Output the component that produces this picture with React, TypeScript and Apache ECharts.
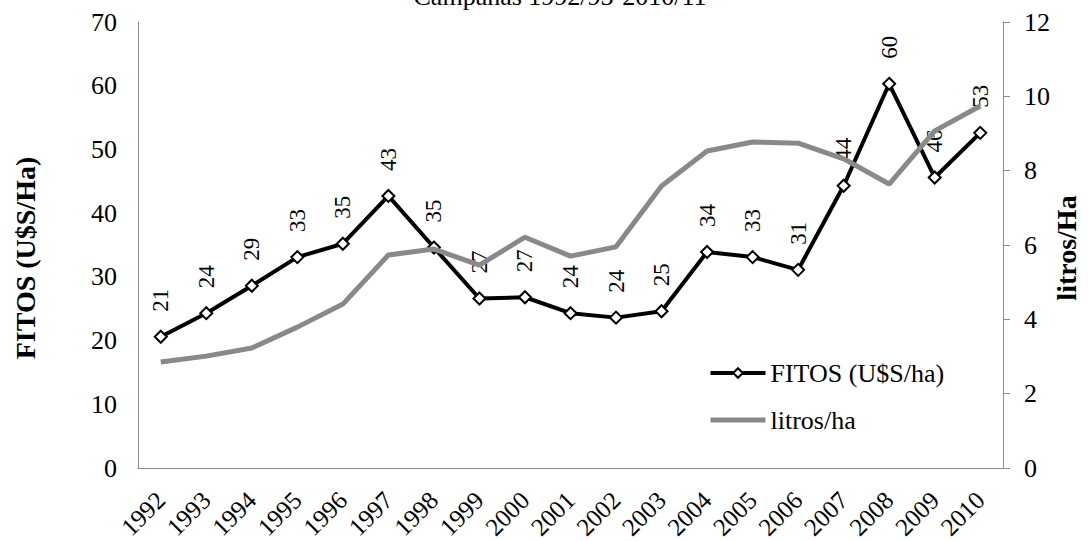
import React, { useEffect, useRef } from "react";
import * as echarts from "echarts";

const years = ["1992", "1993", "1994", "1995", "1996", "1997", "1998", "1999", "2000", "2001", "2002", "2003", "2004", "2005", "2006", "2007", "2008", "2009", "2010"];
const fitos = [20.6, 24.3, 28.6, 33.1, 35.2, 42.7, 34.6, 26.6, 26.8, 24.3, 23.6, 24.6, 33.9, 33.1, 31.1, 44.3, 60.3, 45.6, 52.6];
const litros = [2.85, 3.01, 3.23, 3.79, 4.41, 5.73, 5.89, 5.46, 6.21, 5.7, 5.95, 7.59, 8.53, 8.77, 8.74, 8.32, 7.64, 9.07, 9.74];
const titleText = "Campañas 1992/93-2010/11";
const leftName = "FITOS (U$S/Ha)";
const rightName = "litros/Ha";
const fitosName = "FITOS (U$S/ha)";
const litrosName = "litros/ha";

const FONT = "Liberation Serif";
const GRAY = "#898989";
const AXIS = "#8c8c8c";

export default function App() {
  const ref = useRef<HTMLDivElement>(null);
  useEffect(() => {
    if (!ref.current) return;
    const chart = echarts.init(ref.current, null, { renderer: "svg" });
    chart.setOption({
      animation: false,
      backgroundColor: "#ffffff",
      textStyle: { fontFamily: FONT },
      grid: { left: 138, right: 85, top: 22, bottom: 73, outerBoundsMode: "none", containLabel: false },
      legend: {
        orient: "vertical",
        left: 703,
        top: 355,
        itemWidth: 55,
        itemHeight: 12,
        itemGap: 21,
        textStyle: { fontFamily: FONT, fontSize: 26, color: "#000" },
        data: [
          { name: fitosName, lineStyle: { color: "#000", width: 4 } },
          { name: litrosName, lineStyle: { color: GRAY, width: 5 }, itemStyle: { opacity: 0 } },
        ],
      },
      graphic: [
        {
          type: "text",
          x: 560,
          y: -4,
          style: { text: titleText, font: `26px "${FONT}"`, fill: "#000", textAlign: "center", textVerticalAlign: "middle" },
        },
        {
          type: "text",
          x: 25,
          y: 258,
          rotation: Math.PI / 2,
          style: { text: leftName, font: `bold 28px "${FONT}"`, fill: "#000", textAlign: "center", textVerticalAlign: "middle" },
        },
        {
          type: "text",
          x: 1066,
          y: 248,
          rotation: Math.PI / 2,
          style: { text: rightName, font: `bold 28px "${FONT}"`, fill: "#000", textAlign: "center", textVerticalAlign: "middle" },
        },
      ],
      xAxis: {
        type: "category",
        data: years,
        boundaryGap: true,
        axisLine: { show: true, lineStyle: { color: AXIS, width: 1 } },
        axisTick: { show: false },
        axisLabel: { rotate: 45, margin: 28, fontFamily: FONT, fontSize: 25, color: "#000", interval: 0 },
      },
      yAxis: [
        {
          type: "value",
          min: 0,
          max: 70,
          interval: 10,
          splitLine: { show: false },
          axisLine: { show: true, lineStyle: { color: AXIS, width: 1 } },
          axisTick: { show: false },
          axisLabel: { margin: 21, fontFamily: FONT, fontSize: 26, color: "#000" },
        },
        {
          type: "value",
          min: 0,
          max: 12,
          interval: 2,
          position: "right",
          splitLine: { show: false },
          axisLine: { show: true, lineStyle: { color: AXIS, width: 1 } },
          axisTick: { show: true, length: 7, lineStyle: { color: AXIS } },
          axisLabel: { margin: 21, fontFamily: FONT, fontSize: 26, color: "#000" },
        },
      ],
      series: [
        {
          name: fitosName,
          type: "line",
          data: fitos,
          yAxisIndex: 0,
          symbol: "diamond",
          symbolSize: 12,
          z: 2,
          lineStyle: { color: "#000", width: 4 },
          itemStyle: { color: "#fff", borderColor: "#000", borderWidth: 2 },
          label: {
            show: true,
            position: "top",
            distance: 18,
            rotate: 90,
            align: "left",
            verticalAlign: "middle",
            fontFamily: FONT,
            fontSize: 23,
            color: "#000",
            formatter: (p: any) => String(Math.round(p.value)),
          },
        },
        {
          name: litrosName,
          type: "line",
          data: litros,
          yAxisIndex: 1,
          symbol: "none",
          z: 3,
          lineStyle: { color: GRAY, width: 5 },
          itemStyle: { color: GRAY },
        },
      ],
    });
    return () => chart.dispose();
  }, []);
  return <div ref={ref} style={{ position: "fixed", left: 0, top: 0, width: 1088, height: 541 }} />;
}
